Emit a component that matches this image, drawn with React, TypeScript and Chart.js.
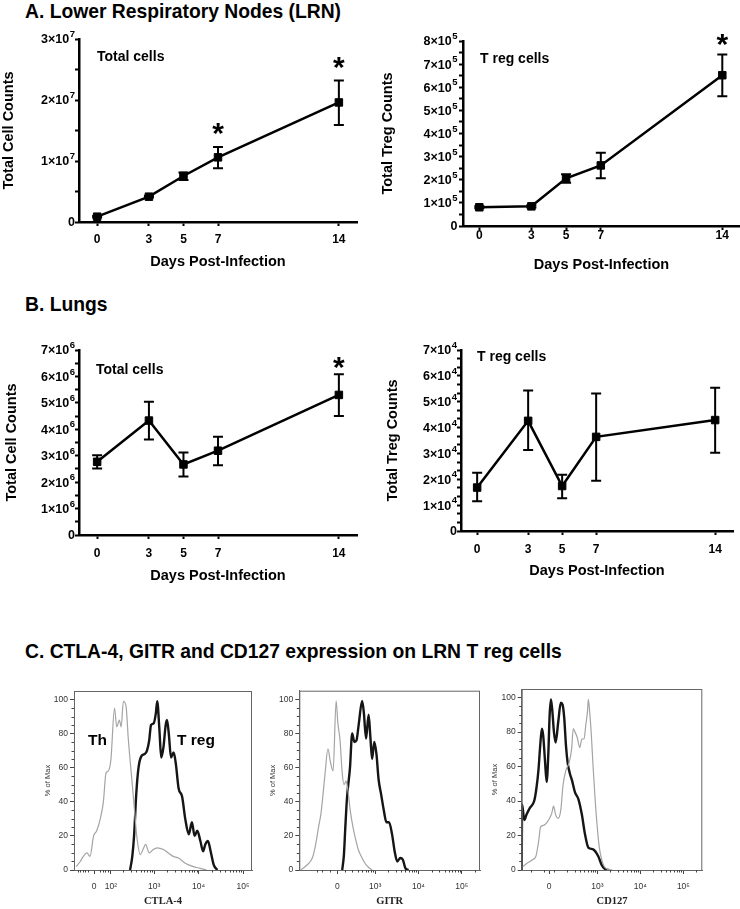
import React, { useEffect, useRef } from "react";
import { Chart, registerables } from "chart.js";
Chart.register(...registerables);

const FONT = '"Liberation Sans", Arial, Helvetica, sans-serif';
const SERIF = '"Liberation Serif", "Times New Roman", serif';
Chart.defaults.font.family = FONT;

// ---------------- Panels A & B: time course ----------------
const days = [0, 3, 5, 7, 14];
const dayTicks = [0, 3, 5, 7, 14];

const lrnTotalMean = [0.087e7, 0.415e7, 0.754e7, 1.06e7, 1.96e7];
const lrnTotalHi = [0.1e7, 0.43e7, 0.81e7, 1.23e7, 2.32e7];
const lrnTotalLo = [0.075e7, 0.4e7, 0.69e7, 0.88e7, 1.59e7];
const lrnTotalStarDays = [7, 14];
const lrnTotalStarY = [1.58e7, 2.66e7];
const lrnTotalYTicks = [0, 1e7, 2e7, 3e7];
const lrnTotalYBase = ["0", "1×10", "2×10", "3×10"];
const lrnTotalYExp = ["", "7", "7", "7"];

const lrnTregMean = [0.81e5, 0.85e5, 2.06e5, 2.62e5, 6.52e5];
const lrnTregHi = [0.85e5, 0.9e5, 2.24e5, 3.17e5, 7.42e5];
const lrnTregLo = [0.77e5, 0.8e5, 1.87e5, 2.06e5, 5.61e5];
const lrnTregStarDays = [14];
const lrnTregStarY = [8.17e5];
const lrnTregYTicks = [0, 1e5, 2e5, 3e5, 4e5, 5e5, 6e5, 7e5, 8e5];
const lrnTregYBase = ["0", "1×10", "2×10", "3×10", "4×10", "5×10", "6×10", "7×10", "8×10"];
const lrnTregYExp = ["", "5", "5", "5", "5", "5", "5", "5", "5"];

const lungTotalMean = [2.77e6, 4.33e6, 2.67e6, 3.19e6, 5.3e6];
const lungTotalHi = [3.02e6, 5.04e6, 3.12e6, 3.72e6, 6.08e6];
const lungTotalLo = [2.52e6, 3.61e6, 2.21e6, 2.64e6, 4.5e6];
const lungTotalStarDays = [14];
const lungTotalStarY = [6.62e6];
const lungTotalYTicks = [0, 1e6, 2e6, 3e6, 4e6, 5e6, 6e6, 7e6];
const lungTotalYBase = ["0", "1×10", "2×10", "3×10", "4×10", "5×10", "6×10", "7×10"];
const lungTotalYExp = ["", "6", "6", "6", "6", "6", "6", "6"];

const lungTregMean = [1.68e4, 4.26e4, 1.74e4, 3.64e4, 4.29e4];
const lungTregHi = [2.25e4, 5.43e4, 2.18e4, 5.32e4, 5.54e4];
const lungTregLo = [1.15e4, 3.13e4, 1.27e4, 1.94e4, 3.03e4];
const lungTregStarDays: number[] = [];
const lungTregStarY: number[] = [];
const lungTregYTicks = [0, 1e4, 2e4, 3e4, 4e4, 5e4, 6e4, 7e4];
const lungTregYBase = ["0", "1×10", "2×10", "3×10", "4×10", "5×10", "6×10", "7×10"];
const lungTregYExp = ["", "4", "4", "4", "4", "4", "4", "4"];

// ---------------- Panel C: histograms (x in display decades, y in % of max) ----------------
const ctlaThX = [1.25, 1.34, 1.41, 1.49, 1.56, 1.64, 1.71, 1.79, 1.86, 1.92, 1.97, 2.03, 2.11, 2.16, 2.22, 2.26, 2.31, 2.37, 2.42, 2.5, 2.56, 2.61, 2.69, 2.75, 2.81, 2.89, 2.98, 3.07, 3.21, 3.32, 3.43, 3.55, 3.7, 3.88, 4.03, 4.18];
const ctlaThY = [2, 5, 8, 10, 8, 20, 23, 30, 40, 57, 58, 65, 95, 84, 88, 84, 99, 96, 77, 53, 35, 20, 9, 12, 15, 10, 12, 13, 12, 10, 8, 7, 4, 2, 1, 0];
const ctlaTregX = [2.46, 2.51, 2.55, 2.6, 2.65, 2.72, 2.79, 2.84, 2.89, 2.93, 2.99, 3.04, 3.07, 3.12, 3.16, 3.21, 3.26, 3.29, 3.33, 3.38, 3.44, 3.49, 3.55, 3.63, 3.7, 3.78, 3.85, 3.91, 3.97, 4.04, 4.1, 4.15, 4.21, 4.27, 4.34, 4.42];
const ctlaTregY = [0, 8, 20, 45, 60, 67, 68, 70, 76, 85, 86, 92, 99, 82, 66, 72, 85, 88, 80, 66, 69, 62, 48, 43, 30, 21, 28, 20, 23, 17, 11, 15, 17, 11, 3, 0];
const ctlaTicks = [1.65, 2.03, 3, 4, 5];
const ctlaLabels = ["0", "10²", "10³", "10⁴", "10⁵"];

const gitrThX = [1.28, 1.43, 1.55, 1.62, 1.7, 1.75, 1.8, 1.85, 1.91, 1.97, 2.03, 2.1, 2.14, 2.19, 2.24, 2.28, 2.33, 2.37, 2.43, 2.49, 2.55, 2.61, 2.68, 2.74, 2.83, 2.93];
const gitrThY = [0, 3, 7, 14, 26, 33, 45, 58, 71, 63, 58, 99, 86, 76, 57, 50, 52, 47, 34, 25, 18, 12, 8, 5, 2, 0];
const gitrTregX = [2.24, 2.28, 2.31, 2.35, 2.42, 2.47, 2.52, 2.57, 2.62, 2.7, 2.74, 2.79, 2.85, 2.89, 2.93, 2.98, 3.03, 3.08, 3.14, 3.2, 3.26, 3.32, 3.39, 3.45, 3.51, 3.58, 3.64, 3.7, 3.77];
const gitrTregY = [0, 9, 24, 42, 60, 80, 75, 76, 85, 99, 92, 77, 91, 78, 65, 75, 68, 53, 44, 35, 28, 28, 21, 11, 5, 7, 6, 1, 0];
const gitrTicks = [2.13, 3, 4, 5];
const gitrLabels = ["0", "10³", "10⁴", "10⁵"];

const cd127ThX = [1.26, 1.37, 1.49, 1.57, 1.63, 1.68, 1.76, 1.84, 1.89, 1.94, 1.98, 2.03, 2.09, 2.15, 2.2, 2.27, 2.34, 2.4, 2.44, 2.48, 2.53, 2.59, 2.64, 2.69, 2.73, 2.77, 2.79, 2.82, 2.86, 2.9, 2.95, 3.0, 3.04, 3.1, 3.16, 3.23, 3.35];
const cd127ThY = [2, 4, 6, 8, 16, 25, 26, 28, 30, 33, 37, 32, 30, 35, 49, 58, 62, 70, 82, 80, 77, 71, 76, 76, 84, 92, 99, 92, 78, 60, 40, 24, 14, 6, 2, 0.5, 0];
const cd127TregX = [1.24, 1.25, 1.3, 1.35, 1.43, 1.53, 1.58, 1.63, 1.67, 1.71, 1.74, 1.78, 1.82, 1.86, 1.89, 1.92, 1.95, 1.99, 2.03, 2.09, 2.15, 2.19, 2.23, 2.27, 2.31, 2.36, 2.41, 2.48, 2.56, 2.64, 2.71, 2.79, 2.9, 3.02, 3.1, 3.18, 3.27];
const cd127TregY = [0, 38, 29, 32, 36, 40, 47, 58, 72, 82, 78, 64, 51, 68, 90, 99, 93, 80, 74, 86, 97, 96, 88, 72, 62, 56, 52, 45, 41, 32, 21, 13, 12, 8, 3, 0.5, 0];
const cd127Ticks = [1.88, 3, 4, 5];
const cd127Labels = ["0", "10³", "10⁴", "10⁵"];

const pctTicks = [0, 20, 40, 60, 80, 100];

// ---------------- helpers ----------------
function makeDecoPlugin(s: LineSpec) {
  return {
    id: "deco",
    afterDatasetsDraw(chart: any) {
      const { ctx, scales } = chart;
      const x = scales.x, y = scales.y;
      ctx.save();
      ctx.strokeStyle = "#000";
      ctx.lineWidth = 2;
      days.forEach((d, i) => {
        const px = x.getPixelForValue(d);
        const ph = y.getPixelForValue(s.hi[i]);
        const pl = y.getPixelForValue(s.lo[i]);
        ctx.beginPath();
        ctx.moveTo(px, ph); ctx.lineTo(px, pl);
        ctx.moveTo(px - 5, ph); ctx.lineTo(px + 5, ph);
        ctx.moveTo(px - 5, pl); ctx.lineTo(px + 5, pl);
        ctx.stroke();
      });
      ctx.fillStyle = "#000";
      ctx.font = "bold 30px " + FONT;
      ctx.textAlign = "center";
      ctx.textBaseline = "alphabetic";
      s.starDays.forEach((d, i) => {
        const px = x.getPixelForValue(d);
        const py = y.getPixelForValue(s.starY[i]);
        ctx.fillText("*", px, py + 17);
      });
      ctx.restore();
    },
    afterDraw(chart: any) {
      // y tick labels with superscript exponents, placed on the y scale's ticks
      const { ctx, scales } = chart;
      const y = scales.y;
      const right = y.right - 4 - s.yTickPad;
      ctx.save();
      ctx.fillStyle = "#000";
      ctx.textBaseline = "middle";
      ctx.textAlign = "left";
      s.yTicks.forEach((v, i) => {
        const py = y.getPixelForValue(v) + 1;
        const base = s.yBase[i];
        const exp = s.yExp[i];
        ctx.font = "bold 9.5px " + FONT;
        const ew = exp ? ctx.measureText(exp).width + 0.5 : 0;
        ctx.font = "bold 12.5px " + FONT;
        const bw = ctx.measureText(base).width;
        const x0 = right - ew - bw;
        ctx.fillText(base, x0, py);
        if (exp) {
          ctx.font = "bold 9.5px " + FONT;
          ctx.fillText(exp, x0 + bw + 0.5, py - 5.5);
        }
      });
      ctx.restore();
    },
  };
}

interface LineSpec {
  mean: number[]; hi: number[]; lo: number[]; starDays: number[]; starY: number[];
  yTicks: number[]; yBase: string[]; yExp: string[]; yMinor: number; xMin: number; xMax: number;
  yTitle: string; yW: number; xH: number; padTop: number; padRight: number;
  yTitlePad: number; xTitlePad: number; yTickPad: number; xTickPad: number;
}

function lineConfig(s: LineSpec): any {
  const yMax = s.yTicks[s.yTicks.length - 1];
  const allY: number[] = [];
  for (let i = 0; i < s.yTicks.length - 1; i++) {
    const a = s.yTicks[i], b = s.yTicks[i + 1];
    for (let k = 0; k < s.yMinor; k++) allY.push(a + ((b - a) * k) / s.yMinor);
  }
  allY.push(yMax);
  const titleFont = { family: FONT, size: 14.5, weight: "bold" };
  const tickFont = { family: FONT, size: 12, weight: "bold" };
  return {
    type: "line",
    data: {
      datasets: [
        {
          data: days.map((d, i) => ({ x: d, y: s.mean[i] })),
          borderColor: "#000",
          backgroundColor: "#000",
          borderWidth: 2.5,
          pointStyle: "rect",
          pointRadius: 5.3,
          pointBorderWidth: 1,
          pointBorderColor: "#000",
          pointBackgroundColor: "#000",
          tension: 0,
          clip: false,
        },
      ],
    },
    options: {
      responsive: false,
      animation: false,
      devicePixelRatio: 1,
      layout: { padding: { left: 0, top: s.padTop, right: s.padRight, bottom: 0 }, autoPadding: false },
      plugins: { legend: { display: false }, tooltip: { enabled: false } },
      scales: {
        x: {
          type: "linear",
          min: s.xMin,
          max: s.xMax,
          afterBuildTicks: (sc: any) => { sc.ticks = dayTicks.map((v) => ({ value: v })); },
          afterFit: (sc: any) => { sc.height = s.xH; },
          ticks: { font: tickFont, color: "#000", padding: s.xTickPad, autoSkip: false, maxRotation: 0, callback: (v: any) => String(v) },
          grid: { drawOnChartArea: false, drawTicks: true, tickLength: 4, tickWidth: 2, tickColor: "#000" },
          border: { display: true, color: "#000", width: 2.5 },
          title: { display: true, text: "Days Post-Infection", font: titleFont, color: "#000", padding: { top: 0, bottom: s.xTitlePad } },
        },
        y: {
          type: "linear",
          min: 0,
          max: yMax,
          afterBuildTicks: (sc: any) => { sc.ticks = allY.map((v) => ({ value: v })); },
          afterFit: (sc: any) => { sc.width = s.yW; },
          ticks: { font: tickFont, color: "#000", padding: s.yTickPad, autoSkip: false, callback: () => "" },
          grid: { drawOnChartArea: false, drawTicks: true, tickLength: 4, tickWidth: 2, tickColor: "#000" },
          border: { display: true, color: "#000", width: 2.5 },
          title: { display: true, text: s.yTitle, font: titleFont, color: "#000", padding: { top: s.yTitlePad, bottom: 0 } },
        },
      },
    },
    plugins: [makeDecoPlugin(s)],
  };
}

function makeHistPlugin(zero: number, xMin: number, xMax: number, majors: number[]) {
  const minors: number[] = [];
  for (let d = 1; d <= 5; d++) {
    for (let k = 1; k <= 9; k++) {
      const u = d + Math.log10(k);
      if (majors.some((m) => Math.abs(m - u) < 0.02)) continue;
      if (u > zero + 0.1 && u < xMax) {
        minors.push(u);
        const m = zero - (u - zero);
        if (u - zero < 0.5 && m > xMin) minors.push(m);
      }
    }
  }
  return {
    id: "histdeco",
    afterDraw(chart: any) {
      const { ctx, chartArea: a, scales } = chart;
      const x = scales.x, y = scales.y;
      ctx.save();
      ctx.strokeStyle = "#666";
      ctx.lineWidth = 1;
      ctx.strokeRect(a.left + 0.5, a.top + 0.5, a.right - a.left - 1, a.bottom - a.top);
      ctx.strokeStyle = "#444";
      ctx.beginPath();
      minors.forEach((u) => {
        const px = Math.round(x.getPixelForValue(u)) + 0.5;
        ctx.moveTo(px, a.bottom);
        ctx.lineTo(px, a.bottom + 2.5);
      });
      for (let v = 5; v < 105; v += 5) {
        if (v % 20 === 0) continue;
        const py = Math.round(y.getPixelForValue(v)) + 0.5;
        ctx.moveTo(a.left, py);
        ctx.lineTo(a.left - 2.5, py);
      }
      ctx.stroke();
      ctx.restore();
    },
  };
}

interface HistSpec {
  thX: number[]; thY: number[]; tregX: number[]; tregY: number[];
  ticks: number[]; labels: string[]; zero: number; xMin: number; xMax: number;
  title: string; yW: number; padTop: number; padRight: number; yTitlePad: number;
}

function histConfig(s: HistSpec): any {
  const small = { family: FONT, size: 8.5 };
  const lab = (v: number) => {
    const i = s.ticks.findIndex((t) => Math.abs(t - v) < 1e-6);
    return i >= 0 ? s.labels[i] : "";
  };
  return {
    type: "line",
    data: {
      datasets: [
        {
          data: s.thX.map((x, i) => ({ x, y: s.thY[i] })),
          borderColor: "#a4a4a4",
          borderWidth: 1.2,
          pointRadius: 0,
          cubicInterpolationMode: "monotone",
          fill: false,
        },
        {
          data: s.tregX.map((x, i) => ({ x, y: s.tregY[i] })),
          borderColor: "#151515",
          borderWidth: 2.4,
          pointRadius: 0,
          cubicInterpolationMode: "monotone",
          fill: false,
        },
      ],
    },
    options: {
      responsive: false,
      animation: false,
      devicePixelRatio: 1,
      layout: { padding: { left: 0, top: s.padTop, right: s.padRight, bottom: 0 }, autoPadding: false },
      plugins: { legend: { display: false }, tooltip: { enabled: false } },
      scales: {
        x: {
          type: "linear",
          min: s.xMin,
          max: s.xMax,
          afterBuildTicks: (sc: any) => { sc.ticks = s.ticks.map((v) => ({ value: v })); },
          afterFit: (sc: any) => { sc.height = 39; },
          ticks: { font: small, color: "#333", padding: 8, autoSkip: false, maxRotation: 0, callback: (v: any) => lab(Number(v)) },
          grid: { drawOnChartArea: false, drawTicks: true, tickLength: 4, tickWidth: 1, tickColor: "#444" },
          border: { display: true, color: "#666", width: 1 },
          title: { display: true, text: s.title, font: { family: SERIF, size: 10.5, weight: "bold" }, color: "#222", padding: { top: 0, bottom: 1 } },
        },
        y: {
          type: "linear",
          min: 0,
          max: 105,
          afterBuildTicks: (sc: any) => { sc.ticks = pctTicks.map((v) => ({ value: v })); },
          afterFit: (sc: any) => { sc.width = s.yW; },
          ticks: { font: small, color: "#333", padding: 2, autoSkip: false, callback: (v: any) => String(v) },
          grid: { drawOnChartArea: false, drawTicks: true, tickLength: 4, tickWidth: 1, tickColor: "#444" },
          border: { display: true, color: "#666", width: 1 },
          title: { display: true, text: "% of Max", font: { family: FONT, size: 7.5 }, color: "#333", padding: { top: s.yTitlePad, bottom: 0 } },
        },
      },
    },
    plugins: [makeHistPlugin(s.zero, s.xMin, s.xMax, s.ticks)],
  };
}

function ChartBox(props: { left: number; top: number; width: number; height: number; make: () => any }) {
  const ref = useRef<HTMLCanvasElement>(null);
  useEffect(() => {
    const chart = new Chart(ref.current as HTMLCanvasElement, props.make());
    return () => chart.destroy();
  }, []);
  return (
    <div style={{ position: "absolute", left: props.left, top: props.top, width: props.width, height: props.height }}>
      <canvas ref={ref} width={props.width} height={props.height} style={{ display: "block", width: props.width, height: props.height }} />
    </div>
  );
}

function Label(props: { left: number; top: number; size: number; text: string; lh?: number }) {
  return (
    <div
      style={{
        position: "absolute",
        left: props.left,
        top: props.top,
        fontFamily: FONT,
        fontWeight: "bold",
        fontSize: props.size,
        lineHeight: (props.lh ?? props.size) + "px",
        whiteSpace: "nowrap",
        color: "#000",
      }}
    >
      {props.text}
    </div>
  );
}

export default function App() {
  return (
    <div style={{ position: "absolute", left: 0, top: 0, width: 740, height: 909, background: "#fff", overflow: "hidden" }}>
      <Label left={25} top={2} size={19.3} text="A. Lower Respiratory Nodes (LRN)" />
      <Label left={25} top={295} size={19.3} text="B. Lungs" />
      <Label left={25} top={642} size={19.3} text="C. CTLA-4, GITR and CD127 expression on LRN T reg cells" />

      <ChartBox left={0} top={20} width={370} height={260} make={() => lineConfig({
        mean: lrnTotalMean, hi: lrnTotalHi, lo: lrnTotalLo, starDays: lrnTotalStarDays, starY: lrnTotalStarY,
        yTicks: lrnTotalYTicks, yBase: lrnTotalYBase, yExp: lrnTotalYExp, yMinor: 2, xMin: -1.05, xMax: 15.05,
        yTitle: "Total Cell Counts", yW: 79, xH: 58, padTop: 19, padRight: 13,
        yTitlePad: 0, xTitlePad: 9, yTickPad: 0, xTickPad: 6,
      })} />
      <ChartBox left={370} top={20} width={370} height={260} make={() => lineConfig({
        mean: lrnTregMean, hi: lrnTregHi, lo: lrnTregLo, starDays: lrnTregStarDays, starY: lrnTregStarY,
        yTicks: lrnTregYTicks, yBase: lrnTregYBase, yExp: lrnTregYExp, yMinor: 2, xMin: -0.94, xMax: 15.02,
        yTitle: "Total Treg Counts", yW: 93, xH: 54, padTop: 21, padRight: 0,
        yTitlePad: 9, xTitlePad: 6, yTickPad: 1.5, xTickPad: -2,
      })} />
      <ChartBox left={0} top={320} width={370} height={270} make={() => lineConfig({
        mean: lungTotalMean, hi: lungTotalHi, lo: lungTotalLo, starDays: lungTotalStarDays, starY: lungTotalStarY,
        yTicks: lungTotalYTicks, yBase: lungTotalYBase, yExp: lungTotalYExp, yMinor: 2, xMin: -1.05, xMax: 15.05,
        yTitle: "Total Cell Counts", yW: 79, xH: 55, padTop: 30, padRight: 13,
        yTitlePad: 3, xTitlePad: 5, yTickPad: 0, xTickPad: 7,
      })} />
      <ChartBox left={370} top={320} width={370} height={270} make={() => lineConfig({
        mean: lungTregMean, hi: lungTregHi, lo: lungTregLo, starDays: lungTregStarDays, starY: lungTregStarY,
        yTicks: lungTregYTicks, yBase: lungTregYBase, yExp: lungTregYExp, yMinor: 3, xMin: -0.95, xMax: 15.05,
        yTitle: "Total Treg Counts", yW: 91, xH: 59, padTop: 30, padRight: 7,
        yTitlePad: 14, xTitlePad: 10, yTickPad: 0, xTickPad: 7,
      })} />

      <Label left={97} top={47.5} size={14} lh={16} text="Total cells" />
      <Label left={480} top={50} size={14} lh={16} text="T reg cells" />
      <Label left={96} top={361} size={14} lh={16} text="Total cells" />
      <Label left={477} top={348} size={14} lh={16} text="T reg cells" />

      <ChartBox left={20} top={680} width={240} height={229} make={() => histConfig({
        thX: ctlaThX, thY: ctlaThY, tregX: ctlaTregX, tregY: ctlaTregY,
        ticks: ctlaTicks, labels: ctlaLabels, zero: 1.65, xMin: 1.2, xMax: 5.2,
        title: "CTLA-4", yW: 54, padTop: 11, padRight: 8, yTitlePad: 23,
      })} />
      <ChartBox left={250} top={680} width={240} height={229} make={() => histConfig({
        thX: gitrThX, thY: gitrThY, tregX: gitrTregX, tregY: gitrTregY,
        ticks: gitrTicks, labels: gitrLabels, zero: 2.13, xMin: 1.25, xMax: 5.42,
        title: "GITR", yW: 49.3, padTop: 10.7, padRight: 10, yTitlePad: 18,
      })} />
      <ChartBox left={475} top={680} width={240} height={229} make={() => histConfig({
        thX: cd127ThX, thY: cd127ThY, tregX: cd127TregX, tregY: cd127TregY,
        ticks: cd127Ticks, labels: cd127Labels, zero: 1.88, xMin: 1.24, xMax: 5.44,
        title: "CD127", yW: 46.7, padTop: 9, padRight: 12.7, yTitlePad: 15,
      })} />

      <Label left={88} top={731} size={15.5} lh={18} text="Th" />
      <Label left={177} top={731} size={15.5} lh={18} text="T reg" />
    </div>
  );
}
